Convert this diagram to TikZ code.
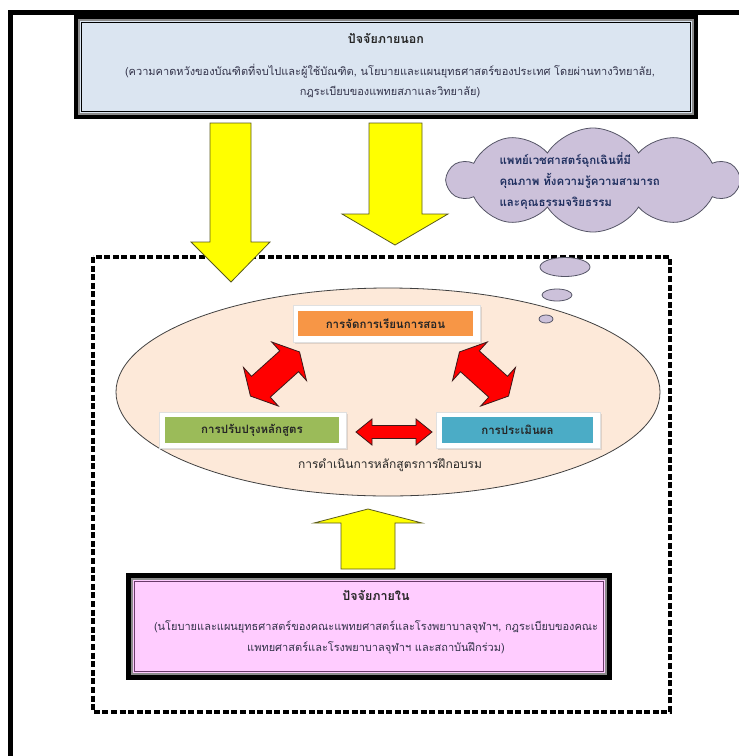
\documentclass[tikz,border=0pt]{standalone}
\usepackage{fontspec}
\newfontfamily\thai[Script=Thai]{Loma}
\usetikzlibrary{shapes.symbols,shapes.geometric,shadows}
\definecolor{topfill}{HTML}{DBE5F1}
\definecolor{botfill}{HTML}{FFCCFF}
\definecolor{ellfill}{HTML}{FDE9D9}
\definecolor{cloudfill}{HTML}{CCC1DA}
\definecolor{cloudedge}{HTML}{555566}
\definecolor{orangebox}{HTML}{F79646}
\definecolor{greenbox}{HTML}{9BBB59}
\definecolor{bluebox}{HTML}{4BACC6}
\definecolor{txt}{HTML}{262626}
\definecolor{bodytxt}{HTML}{33334A}
\definecolor{navy}{HTML}{1F2F5F}
\definecolor{yel}{HTML}{FFFF00}
\definecolor{yeledge}{HTML}{5A5A1E}
\definecolor{redar}{HTML}{FF0000}
\definecolor{rededge}{HTML}{3A1A1A}
\definecolor{purpline}{HTML}{6A3A6A}
\tikzset{
  bigbox/.style={draw=black, line width=4pt, outer sep=0pt, inner sep=0pt},
  whiteframe/.style={fill=white, draw=black!12, line width=0.6pt, inner sep=0pt,
     drop shadow={opacity=0.22, shadow xshift=1.5pt, shadow yshift=-1.5pt}},
  colbox/.style={inner sep=0pt, text=txt, font=\thai\bfseries\fontsize{11.5}{13}\selectfont},
  titletext/.style={text=txt, font=\thai\bfseries\fontsize{12.5}{14}\selectfont},
  yarrow/.style={fill=yel, draw=yeledge, line width=0.8pt, line join=miter},
  redshape/.style={fill=redar, draw=rededge, line width=0.8pt, line join=miter},
  bubble/.style={ellipse, draw=cloudedge, fill=cloudfill, line width=0.8pt, inner sep=0pt},
}
\newcommand\redarrow[8]{%
  \begin{scope}[shift={(#2,#3)}, rotate=#4]
    \draw[redshape] (-#5,0) coordinate (#1-a) -- (-#5+#6,#7) -- (-#5+#6,#8) -- (#5-#6,#8)
      -- (#5-#6,#7) -- (#5,0) coordinate (#1-b) -- (#5-#6,-#7) -- (#5-#6,-#8)
      -- (-#5+#6,-#8) -- (-#5+#6,-#7) -- cycle;
  \end{scope}}
\begin{document}
\begin{tikzpicture}[x=1pt, y=-1pt, font=\thai]
\useasboundingbox (0,0) rectangle (739,756);
% outer page frame (only top and left visible)
\draw[line width=5pt] (739,12.5) -- (10.5,12.5) -- (10.5,756);

% external factors box
\node[bigbox, fill=topfill, minimum width=620pt, minimum height=100pt] (ext) at (386,67) {};
\draw[black!45, line width=2.5pt] ([shift={(3.2,3.2)}]ext.north west) rectangle ([shift={(-3.2,-3.2)}]ext.south east);
\draw[black, line width=0.8pt] ([shift={(5.2,5.2)}]ext.north west) rectangle ([shift={(-5.2,-5.2)}]ext.south east);
\node[titletext] (extT) at (386,38) {ปัจจัยภายนอก};
\node[align=center, text=bodytxt, font=\thai\fontsize{11}{20}\selectfont] (extB) at (390,81)
  {(ความคาดหวังของบัณฑิตที่จบไปและผู้ใช้บัณฑิต, นโยบายและแผนยุทธศาสตร์ของประเทศ โดยผ่านทางวิทยาลัย,\\กฎระเบียบของแพทยสภาและวิทยาลัย)};

% dashed frame
\draw[line width=3.5pt, dash pattern=on 6pt off 2.6pt] (93,257) rectangle (670,712);

% process ellipse
\node[ellipse, draw=black!75, fill=ellfill, line width=0.8pt, minimum width=544pt, minimum height=208pt, inner sep=0pt] (proc) at (388,392) {};
\node[text=txt, font=\thai\fontsize{12}{14}\selectfont] (procT) at (390,465) {การดำเนินการหลักสูตรการฝึกอบรม};

% thought bubbles
\node[bubble, minimum width=50pt, minimum height=19pt] (b1) at (565,267) {};
\node[bubble, minimum width=30pt, minimum height=12pt] (b2) at (557,295) {};
\node[bubble, minimum width=14pt, minimum height=8pt] (b3) at (546,319) {};

% cloud
\node[cloud, cloud puffs=10, cloud puff arc=115, aspect=2.8, draw=cloudedge, fill=cloudfill, line width=0.8pt,
      minimum width=290pt, minimum height=104pt, inner sep=0pt] (goal) at (593,180) {};
\node[anchor=west, align=left, text=navy, font=\thai\bfseries\fontsize{11.5}{21}\selectfont] (goalT) at (496,181)
  {แพทย์เวชศาสตร์ฉุกเฉินที่มี\\คุณภาพ ทั้งความรู้ความสามารถ\\และคุณธรรมจริยธรรม};

% yellow arrows
\draw[yarrow] (210,123) coordinate (ya1) -- (251,123) -- (251,242) -- (270,242) -- (231,282) coordinate (ya1t)
  -- (191,242) -- (210,242) -- cycle;
\draw[yarrow] (369,123) coordinate (ya2) -- (422,123) -- (422,214) -- (448,214) -- (395,245) coordinate (ya2t)
  -- (342,214) -- (369,214) -- cycle;
\draw[yarrow] (341,569) coordinate (ya3) -- (395,569) -- (395,523) -- (422,523) -- (368,509) coordinate (ya3t)
  -- (314,523) -- (341,523) -- cycle;

% activity boxes
\node[whiteframe, minimum width=187pt, minimum height=37pt] (teachF) at (386.5,323.5) {};
\node[colbox, fill=orangebox, minimum width=175pt, minimum height=25pt] (teach) at (385.5,323.5) {การจัดการเรียนการสอน};
\node[whiteframe, minimum width=187pt, minimum height=36pt] (curF) at (252.5,430) {};
\node[colbox, fill=greenbox, minimum width=174pt, minimum height=26pt] (cur) at (252,430) {การปรับปรุงหลักสูตร};
\node[whiteframe, minimum width=164pt, minimum height=36pt] (evalF) at (518,430) {};
\node[colbox, fill=bluebox, minimum width=151pt, minimum height=26pt] (eval) at (517.5,430) {การประเมินผล};

% red double arrows
\redarrow{ra1}{275}{374}{42}{33}{14}{26}{14}
\redarrow{ra2}{484}{374}{138}{33}{14}{26}{14}
\redarrow{ra3}{394}{432}{0}{38}{16}{13}{6.5}

% internal factors box
\node[draw=black, line width=5pt, outer sep=0pt, inner sep=0pt, fill=botfill, minimum width=481pt, minimum height=102pt] (int) at (369,626.5) {};
\draw[black!45, line width=2.2pt] ([shift={(3.6,3.6)}]int.north west) rectangle ([shift={(-3.6,-3.6)}]int.south east);
\draw[purpline, line width=1pt] ([shift={(5.6,5.6)}]int.north west) rectangle ([shift={(-5.6,-5.6)}]int.south east);
\node[titletext] (intT) at (376,595) {ปัจจัยภายใน};
\node[align=center, text=bodytxt, font=\thai\fontsize{11}{21}\selectfont] (intB) at (376,637.5)
  {(นโยบายและแผนยุทธศาสตร์ของคณะแพทยศาสตร์และโรงพยาบาลจุฬาฯ, กฎระเบียบของคณะ\\แพทยศาสตร์และโรงพยาบาลจุฬาฯ และสถาบันฝึกร่วม)};
\end{tikzpicture}
\end{document}
